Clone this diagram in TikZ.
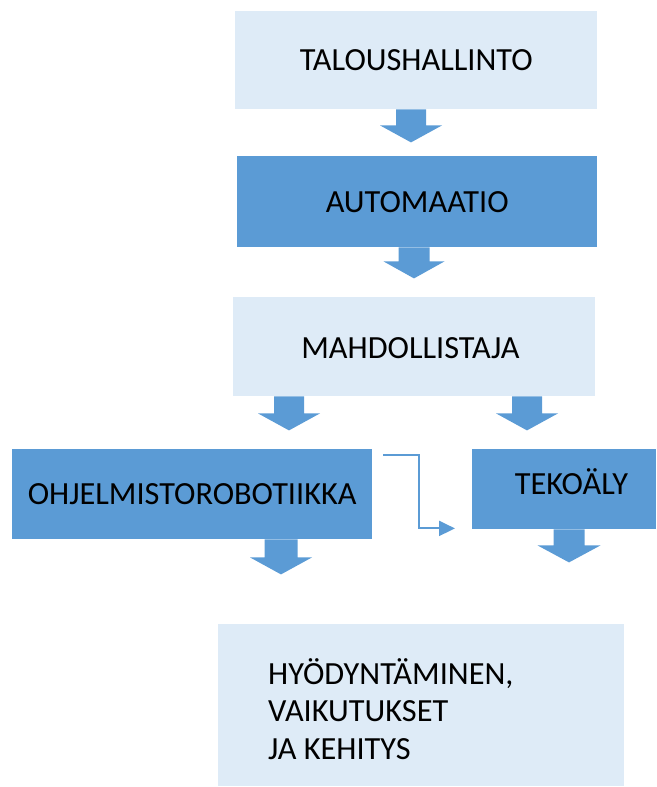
\documentclass[tikz,border=0pt]{standalone}
\usepackage{fontspec}
\setmainfont{Carlito}
\usetikzlibrary{arrows.meta,calc}
\definecolor{lightbox}{HTML}{DEEBF7}
\definecolor{darkbox}{HTML}{5B9BD5}
\definecolor{arrowblue}{HTML}{5B9BD5}
\tikzset{
  boxbase/.style={rectangle, inner sep=0pt, draw=none, anchor=north west,
    font=\fontsize{32.3pt}{37.5pt}\selectfont, text=black,
    text height=21pt, text depth=0pt},
  lightnode/.style={boxbase, fill=lightbox},
  darknode/.style={boxbase, fill=darkbox},
  txt/.style={inner sep=0pt, font=\fontsize{32.3pt}{37.5pt}\selectfont, text=black},
  conn/.style={draw=arrowblue, line width=2pt,
    -{Triangle[length=16pt,width=15pt]}},
  pics/downarrow/.style n args={4}{code={
    % #1 shaft half width, #2 head half width, #3 shaft length, #4 tip length
    \fill[arrowblue] (-#1,0) -- (#1,0) -- (#1,#3) -- (#2,#3) -- (0,#4)
      -- (-#2,#3) -- (-#1,#3) -- cycle;}}
}
\begin{document}
\begin{tikzpicture}[x=1pt,y=-1pt]
\useasboundingbox (0,0) rectangle (656,787);

% boxes
\node[lightnode, minimum width=362pt, minimum height=98pt] (tal) at (235,11) {TALOUSHALLINTO};
\node[darknode, minimum width=360pt, minimum height=91pt] (aut) at (237,156) {AUTOMAATIO};
\node[lightnode, minimum width=362pt, minimum height=99pt] (mah) at (233,297) {};
\node[txt, anchor=base] (mahtext) at (410.5,358) {MAHDOLLISTAJA};
\node[darknode, minimum width=360pt, minimum height=90pt] (ohj) at (12,449) {OHJELMISTOROBOTIIKKA};
\node[darknode, minimum width=184pt, minimum height=80pt] (tek) at (472,449) {};
\node[txt, anchor=base] (tektext) at (571.5,494) {TEKOÄLY};
\node[lightnode, minimum width=406pt, minimum height=162pt] (hyo) at (218,624) {};
\node[txt, anchor=west, align=left] (hyotext) at (268,709) {HYÖDYNTÄMINEN,\\VAIKUTUKSET\\JA KEHITYS};

% block arrows
\pic at ($(tal.south west)+(176,0)$) {downarrow={15}{31}{16}{33}};
\pic at ($(aut.south west)+(177,0)$) {downarrow={15.5}{30.5}{14}{31}};
\pic at ($(mah.south west)+(56,0)$) {downarrow={15}{31}{17}{34}};
\pic at ($(mah.south west)+(294,0)$) {downarrow={15}{31}{17}{34}};
\pic at ($(ohj.south west)+(269,0)$) {downarrow={16.5}{31}{18}{35}};
\pic at ($(tek.south west)+(97,0)$) {downarrow={15.5}{31.5}{16}{33}};

% thin connector
\coordinate (cStart) at ($(ohj.north east)+(11,6)$);
\coordinate (cEnd) at ($(tek.south west)+(-17,-1)$);
\draw[conn] (cStart) -- ++(36,0) |- (cEnd);
\end{tikzpicture}
\end{document}
